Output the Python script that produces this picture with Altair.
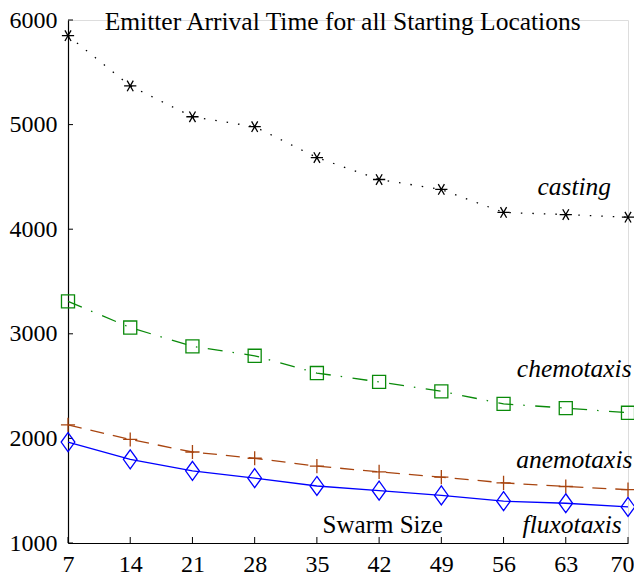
import altair as alt
import pandas as pd

# ---- data ----
swarm_sizes = [7, 14, 21, 28, 35, 42, 49, 56, 63, 70]
casting = [5850, 5370, 5075, 4980, 4685, 4475, 4380, 4160, 4140, 4115]
chemotaxis = [3310, 3060, 2880, 2790, 2625, 2540, 2450, 2330, 2290, 2245]
anemotaxis = [2130, 1990, 1870, 1810, 1735, 1680, 1630, 1575, 1540, 1510]
fluxotaxis = [1965, 1800, 1690, 1620, 1545, 1500, 1455, 1400, 1380, 1345]

x_ticks = [7, 14, 21, 28, 35, 42, 49, 56, 63, 70]
y_ticks = [1000, 2000, 3000, 4000, 5000, 6000]

# annotation texts (positions in data units)
ann_text = ["Emitter Arrival Time for all Starting Locations", "Swarm Size",
            "casting", "chemotaxis", "anemotaxis", "fluxotaxis"]
ann_x = [37.9, 42.4, 68.1, 70.4, 70.5, 69.3]
ann_y = [5902, 1092, 4330, 2585, 1715, 1095]
ann_size = [25.5, 25, 25.5, 25.5, 25.5, 25.5]
ann_align = ["center", "center", "right", "right", "right", "right"]
ann_style = ["normal", "normal", "italic", "italic", "italic", "italic"]

W, H = 560, 523
FONT = "Liberation Serif"

series = [
    ("casting", casting, "#000000", [1.5, 10], "M-1,0L1,0M-0.5,-0.866L0.5,0.866M-0.5,0.866L0.5,-0.866", 150),
    ("chemotaxis", chemotaxis, "#0a8a0a", [15, 10, 1.5, 10.5], "square", 170),
    ("anemotaxis", anemotaxis, "#a84510", [14, 9], "M-1,0L1,0M0,-1L0,1", 200),
    ("fluxotaxis", fluxotaxis, "#0000ff", None, "M0,-1L0.72,0L0,1L-0.72,0Z", 361),
]

xscale = alt.Scale(domain=[7, 70], nice=False, zero=False)
yscale = alt.Scale(domain=[1000, 6000], nice=False, zero=False)
xaxis = alt.Axis(values=x_ticks, grid=False, ticks=False, domainColor="black",
                 domainWidth=1.2, labelFont=FONT, labelFontSize=24,
                 labelColor="black", labelPadding=9, format="d", title=None,
                 labelFlush=True, labelFlushOffset=6)
yaxis = alt.Axis(values=y_ticks, grid=False, ticks=False, domainColor="black",
                 domainWidth=1.2, labelFont=FONT, labelFontSize=24,
                 labelColor="black", labelPadding=11, format="d", title=None,
                 labelFlush=False)


def X():
    return alt.X("x:Q", scale=xscale, axis=xaxis)


def Y():
    return alt.Y("y:Q", scale=yscale, axis=yaxis)


layers = []

# inward ticks
yt = pd.DataFrame({"y": y_ticks})
layers.append(alt.Chart(yt).mark_rule(color="black", strokeWidth=1).encode(
    y=Y(), x=alt.value(0), x2=alt.value(5)))
xt = pd.DataFrame({"x": x_ticks})
layers.append(alt.Chart(xt).mark_rule(color="black", strokeWidth=1).encode(
    x=X(), y=alt.value(H), y2=alt.value(H - 6)))

for name, vals, color, dash, shape, size in series:
    df = pd.DataFrame({"x": swarm_sizes, "y": vals})
    line_kw = dict(color=color, strokeWidth=1.3)
    if dash is not None:
        line_kw["strokeDash"] = dash
    layers.append(alt.Chart(df).mark_line(**line_kw).encode(x=X(), y=Y()))
    layers.append(alt.Chart(df).mark_point(shape=shape, filled=False, size=size,
                                           color=color, strokeWidth=1.3, opacity=1).encode(
        x=X(), y=Y()))

ann = pd.DataFrame({"t": ann_text, "x": ann_x, "y": ann_y})
for i in range(len(ann)):
    row = ann.iloc[[i]]
    layers.append(alt.Chart(row).mark_text(
        font=FONT, fontSize=ann_size[i], fontStyle=ann_style[i],
        align=ann_align[i], baseline="alphabetic", color="black").encode(
        x=X(), y=Y(), text="t:N"))

chart = alt.layer(*layers).properties(
    width=W, height=H,
    padding={"left": 60, "top": 12, "right": 6, "bottom": 40},
    autosize=alt.AutoSizeParams(type="none"),
).configure_view(stroke=None).configure(background="white")

chart.save("out.html", embed_options={"renderer": "svg", "actions": False})
